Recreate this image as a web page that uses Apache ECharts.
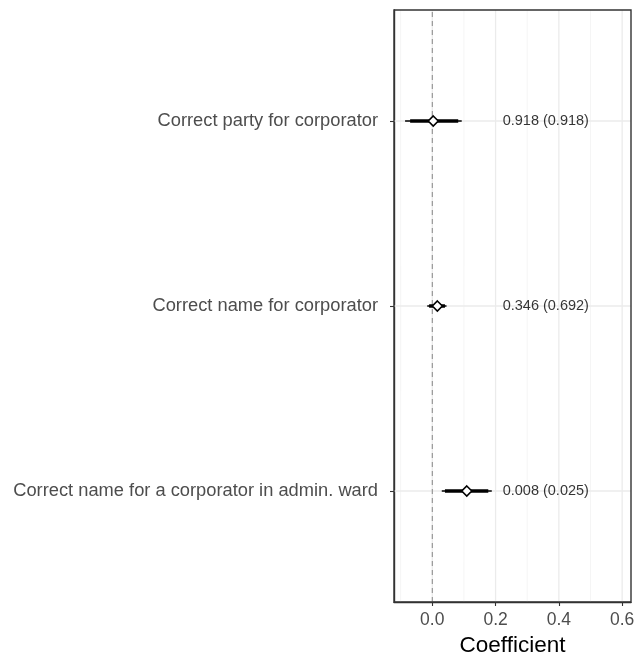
<!DOCTYPE html>
<html><head><meta charset="utf-8">
<script src="https://cdn.jsdelivr.net/npm/echarts@6/dist/echarts.min.js"></script>
<style>html,body{margin:0;padding:0;background:#fff}#c{width:634px;height:658px}</style>
</head><body><div id="c"></div>
<script>
// bottom to top (y positions 1,2,3)
const categories = ["Correct name for a corporator in admin. ward", "Correct name for corporator", "Correct party for corporator"];
const estimates = [0.109, 0.016, 0.003];
const outerLow = [0.030, -0.016, -0.086];
const outerHigh = [0.188, 0.045, 0.093];
const innerLow = [0.040, -0.010, -0.070];
const innerHigh = [0.177, 0.040, 0.082];
const pLabels = ["0.008 (0.025)", "0.346 (0.692)", "0.918 (0.918)"];
const labelX = 0.2224;
const xTicks = [0, 0.2, 0.4, 0.6];
const xMinor = [-0.1, 0.1, 0.3, 0.5];
const xMin = -0.121, xMax = 0.628, yMin = 0.4, yMax = 3.6;

const font = "'Liberation Sans', Arial, sans-serif";
const pos = categories.map((c, i) => i + 1);

const gl = (data, color, width, type, z) => ({type: 'line', z: z, silent: true, symbol: 'none', data: data,
  lineStyle: {color: color, width: width, type: type || 'solid'}});

const gridSeries = [
  ...xMinor.map(v => gl([[v, yMin], [v, yMax]], '#f2f2f2', 0.8, null, 1)),
  ...xTicks.map(v => gl([[v, yMin], [v, yMax]], '#ebebeb', 1.3, null, 1)),
  ...pos.map(v => gl([[xMin, v], [xMax, v]], '#ebebeb', 1.3, null, 1)),
  gl([[0, yMin], [0, yMax]], '#888', 1, [5, 4], 2)
];

const barSeries = [];
pos.forEach((p, i) => {
  barSeries.push(gl([[outerLow[i], p], [outerHigh[i], p]], '#000', 1.6, null, 4));
  barSeries.push(gl([[innerLow[i], p], [innerHigh[i], p]], '#000', 3.4, null, 4));
});

const chart = echarts.init(document.getElementById('c'), null, {renderer: 'canvas'});
chart.setOption({
  animation: false,
  backgroundColor: '#fff',
  grid: {left: 394, right: 3, top: 10, bottom: 56, outerBoundsMode: 'none', containLabel: false,
    show: true, borderColor: '#333', borderWidth: 1.4, backgroundColor: 'transparent', z: 10},
  xAxis: {
    type: 'value', min: xMin, max: xMax,
    name: 'Coefficient', nameLocation: 'middle', nameGap: 30,
    nameTextStyle: {fontFamily: font, fontSize: 22.5, color: '#000'},
    axisLine: {show: true, onZero: false, lineStyle: {color: '#333', width: 1.4}},
    axisTick: {show: true, length: 4, lineStyle: {color: '#333', width: 1.1}, customValues: xTicks},
    axisLabel: {fontFamily: font, fontSize: 17.5, color: '#4d4d4d', margin: 9, customValues: xTicks,
      formatter: v => v.toFixed(1)},
    splitLine: {show: false}
  },
  yAxis: {
    type: 'value', min: yMin, max: yMax,
    axisLine: {show: true, onZero: false, lineStyle: {color: '#333', width: 1.4}},
    axisTick: {show: true, length: 4, lineStyle: {color: '#333', width: 1.1}, customValues: pos},
    axisLabel: {fontFamily: font, fontSize: 18.3, color: '#4d4d4d', margin: 16, customValues: pos,
      formatter: v => categories[Math.round(v) - 1]},
    splitLine: {show: false}
  },
  series: [
    ...gridSeries,
    ...barSeries,
    {
      type: 'scatter', z: 5,
      data: pos.map((p, i) => [estimates[i], p]),
      symbol: 'diamond', symbolSize: [10, 10],
      itemStyle: {color: '#fff', borderColor: '#000', borderWidth: 1.6, opacity: 1}
    },
    {
      type: 'scatter', z: 5,
      data: pos.map((p, i) => ({value: [labelX, p], label: {formatter: pLabels[i]}})),
      symbolSize: 0,
      label: {show: true, position: 'right', distance: 0, fontFamily: font, fontSize: 14.5, color: '#000'}
    }
  ]
});
</script>
</body></html>
